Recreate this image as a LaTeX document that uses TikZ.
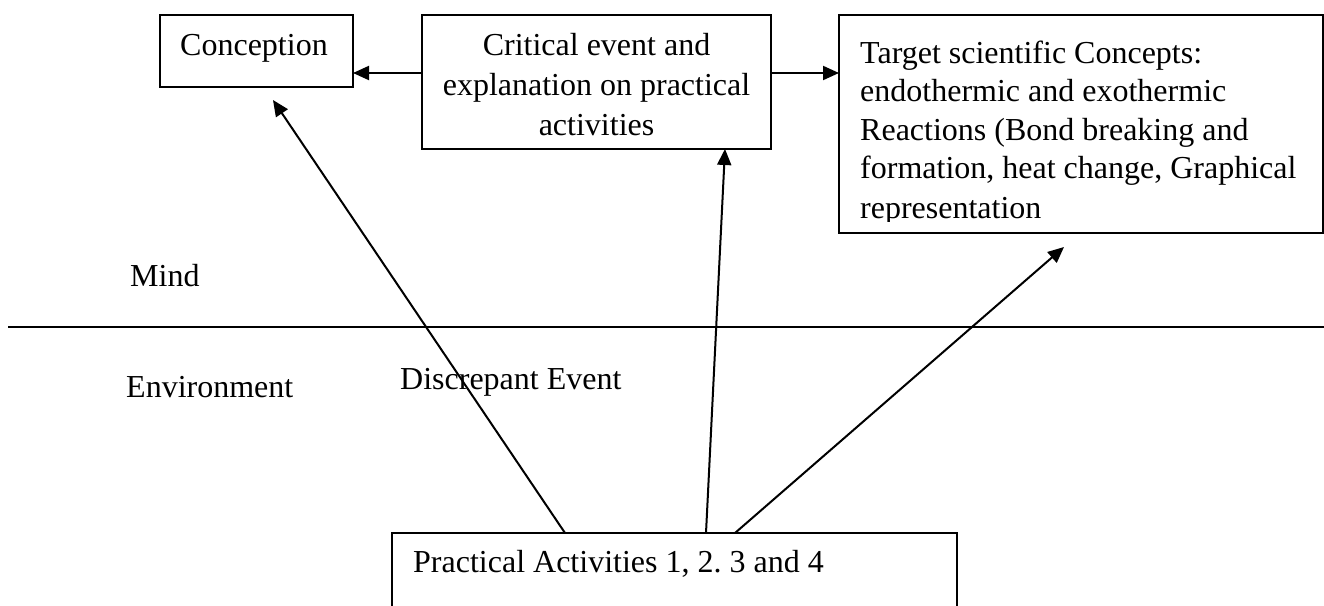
\documentclass[tikz,border=0pt]{standalone}
\usepackage{fontspec}
\setmainfont{Liberation Serif}
\usetikzlibrary{arrows.meta}
\frenchspacing
\begin{document}
\begin{tikzpicture}[x=1pt,y=-1pt,
  box/.style={draw, line width=2pt, rectangle, inner sep=0pt, outer sep=0pt},
  txt/.style={font=\fontsize{32}{39}\selectfont, inner sep=0pt, anchor=base west},
  ctxt/.style={font=\fontsize{32}{39}\selectfont, inner sep=0pt, anchor=base},
  arr/.style={line width=2pt, -{Triangle[length=16pt,width=14pt]}}]
\useasboundingbox (0,0) rectangle (1324,605);
\clip (0,0) rectangle (1324,605);
\fill[white] (0,0) rectangle (1324,605);
% boxes
\node[box, minimum width=193pt, minimum height=72pt] (conc) at (256.5,51) {};
\node[box, minimum width=349pt, minimum height=134pt] (crit) at (596.5,82) {};
\node[box, minimum width=484pt, minimum height=218pt] (targ) at (1081,124) {};
\node[box, minimum width=565pt, minimum height=117pt] (prac) at (674.5,591.5) {};
% texts
\node[ctxt] (tconc) at (254,55) {Conception};
\node[ctxt] (tcrit1) at (596.5,55) {Critical event and};
\node[ctxt] (tcrit2) at (596.5,95) {explanation on practical};
\node[ctxt] (tcrit3) at (596.5,135) {activities};
\begin{scope}
\clip (839,15) rectangle (1323,221);
\node[txt] (ttarg1) at (860,63) {Target scientific Concepts:};
\node[txt] (ttarg2) at (860,101.5) {endothermic and exothermic};
\node[txt] (ttarg3) at (860,140) {Reactions (Bond breaking and};
\node[txt] (ttarg4) at (860,178.5) {formation, heat change, Graphical};
\node[txt] (ttarg5) at (860,218) {representation};
\end{scope}
\node[txt] (tprac) at (413,572) {Practical Activities 1, 2.\ 3 and 4};
\node[txt] (mind) at (130,286) {Mind};
\node[txt] (env) at (126,397) {Environment};
\node[txt] (disc) at (400,389) {Discrepant Event};
% dividing line
\coordinate (hl) at (8,327);
\coordinate (hr) at (1324,327);
\draw[line width=2pt] (hl) -- (hr);
% free arrow ends
\coordinate (e1) at (273,100);
\coordinate (e2) at (1064,247);
% connectors
\draw[arr] ([yshift=9pt]crit.west) -- ([yshift=-22pt]conc.east);
\draw[arr] ([yshift=9pt]crit.east) -- ([yshift=51pt]targ.west);
\draw[arr] ([xshift=-109.5pt]prac.north) -- (e1);
\draw[arr] ([xshift=31.5pt]prac.north) -- ([xshift=128.5pt]crit.south);
\draw[arr] ([xshift=60.5pt]prac.north) -- (e2);
\end{tikzpicture}
\end{document}
